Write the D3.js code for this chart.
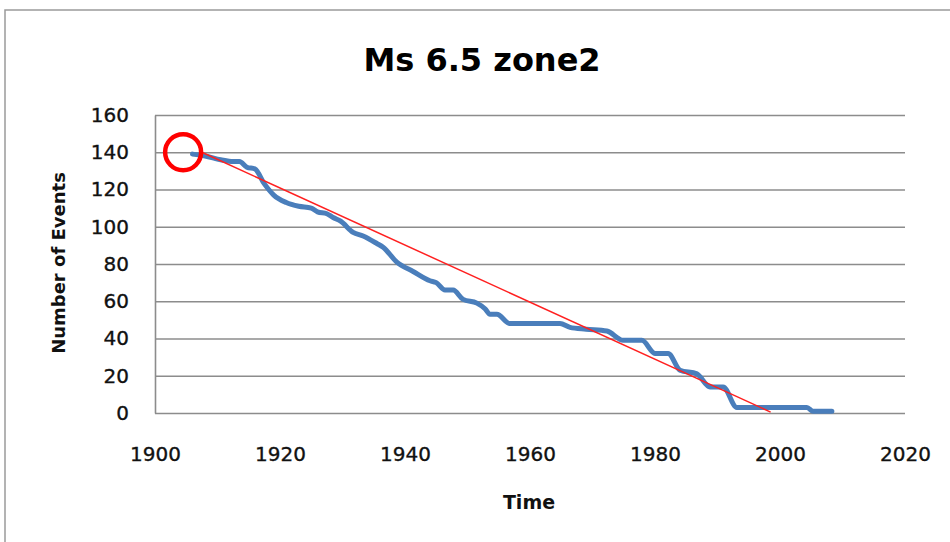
<!DOCTYPE html>
<html>
<head>
<meta charset="utf-8">
<script src="https://cdn.jsdelivr.net/npm/d3@7"></script>
<style>
  body { margin: 0; background: #fff; }
  text { font-family: "DejaVu Sans", sans-serif; }
</style>
</head>
<body>
<script>
const svgWidth = 950
const svgHeight = 542

const margin = { top: 115, right: 45, bottom: 129, left: 155 }
const chartWidth = svgWidth - margin.left - margin.right
const chartHeight = svgHeight - margin.top - margin.bottom

// remaining events
const years = [1906, 1908, 1910.5, 1912.5, 1913.5, 1914.7, 1916, 1917.5, 1919, 1921, 1923, 1925, 1926, 1927.5, 1928.5,
    1929.7, 1931.7, 1933.3, 1935.5, 1936.5, 1938.7, 1941.3, 1944, 1945, 1946.4, 1947.7, 1949.3, 1951.5, 1952.8,
    1953.6, 1954.7, 1956.8, 1964.8, 1966.4, 1969, 1972.3, 1974.9, 1977.9, 1980, 1982.1, 1984, 1986.7, 1988.8,
    1990.9, 1993.1, 2004.3, 2005.3, 2008.3]
const events = [139, 138, 136, 135, 135, 132, 131, 123, 117, 113, 111, 110, 108, 107, 105,
    103, 97, 95, 91, 89, 81, 76, 71, 70, 66, 66, 61, 59, 56,
    53, 53, 48, 48, 46, 45, 44, 39, 39, 32, 32, 23, 21, 14,
    14, 3, 3, 1, 1]

// linear trend line end points
const trendYears = [1907.5, 1998.5]
const trendEvents = [140, 0.5]

// highlighted first point
const markYear = 1904.5
const markValue = 140

const xTicks = [1900, 1920, 1940, 1960, 1980, 2000, 2020]
const yTicks = [0, 20, 40, 60, 80, 100, 120, 140, 160]

const svg = d3.select("body").append("svg")
    .attr("width", svgWidth)
    .attr("height", svgHeight)

svg.append("rect")
    .attr("x", 5).attr("y", 10)
    .attr("width", 980).attr("height", 600)
    .attr("fill", "#fff")
    .attr("stroke", "#9a9a9a")
    .attr("stroke-width", 1.5)

const chartG = svg.append("g")
    .attr("transform", `translate(${margin.left}, ${margin.top})`)

const x = d3.scaleLinear().domain([1900, 2020]).range([0, chartWidth])
const y = d3.scaleLinear().domain([0, 160]).range([chartHeight, 0])

// gridlines
chartG.append("g")
    .call(d3.axisLeft(y).tickValues(yTicks).tickSize(-chartWidth).tickFormat(""))
    .call(g => g.select(".domain").remove())
    .selectAll("line")
    .attr("stroke", "#8c8c8c")
    .attr("stroke-width", 1.6)

// y axis
chartG.append("g")
    .call(d3.axisLeft(y).tickValues(yTicks).tickSize(0).tickPadding(26))
    .call(g => g.select(".domain").attr("stroke", "#8c8c8c").attr("stroke-width", 1.6))
    .selectAll("text")
    .attr("font-size", 20)
    .attr("fill", "#111")
    .attr("stroke", "#111")
    .attr("stroke-width", 0.35)
    .attr("font-family", "DejaVu Sans")

// x axis labels, placed below the plot
chartG.append("g")
    .attr("transform", `translate(0, ${chartHeight + 31})`)
    .call(d3.axisBottom(x).tickValues(xTicks).tickSize(0).tickFormat(d3.format("d")))
    .call(g => g.select(".domain").remove())
    .selectAll("text")
    .attr("font-size", 20)
    .attr("fill", "#111")
    .attr("stroke", "#111")
    .attr("stroke-width", 0.35)
    .attr("font-family", "DejaVu Sans")

const data = years.map((yr, i) => ({ year: yr, n: events[i] }))

const line = d3.line()
    .x(d => x(d.year))
    .y(d => y(d.n))
    .curve(d3.curveMonotoneX)

chartG.append("path")
    .attr("d", line(data))
    .attr("fill", "none")
    .attr("stroke", "#4a7ebb")
    .attr("stroke-width", 5)
    .attr("stroke-linejoin", "round")
    .attr("stroke-linecap", "round")

const trend = trendYears.map((yr, i) => ({ year: yr, n: trendEvents[i] }))
chartG.append("path")
    .attr("d", d3.line().x(d => x(d.year)).y(d => y(d.n))(trend))
    .attr("fill", "none")
    .attr("stroke", "#ff2020")
    .attr("stroke-width", 1.5)

chartG.append("circle")
    .attr("cx", x(markYear))
    .attr("cy", y(markValue))
    .attr("r", 18)
    .attr("fill", "none")
    .attr("stroke", "#ff0000")
    .attr("stroke-width", 4.5)

svg.append("text")
    .attr("x", 482).attr("y", 71)
    .attr("text-anchor", "middle")
    .attr("font-size", 32)
    .attr("font-weight", "bold")
    .attr("fill", "#000")
    .text("Ms 6.5 zone2")

svg.append("text")
    .attr("x", 529).attr("y", 509)
    .attr("text-anchor", "middle")
    .attr("font-size", 19)
    .attr("font-weight", "bold")
    .attr("fill", "#111")
    .text("Time")

svg.append("text")
    .attr("transform", "translate(65, 263) rotate(-90)")
    .attr("text-anchor", "middle")
    .attr("font-size", 18)
    .attr("font-weight", "bold")
    .attr("fill", "#111")
    .text("Number of Events")
</script>
</body>
</html>
